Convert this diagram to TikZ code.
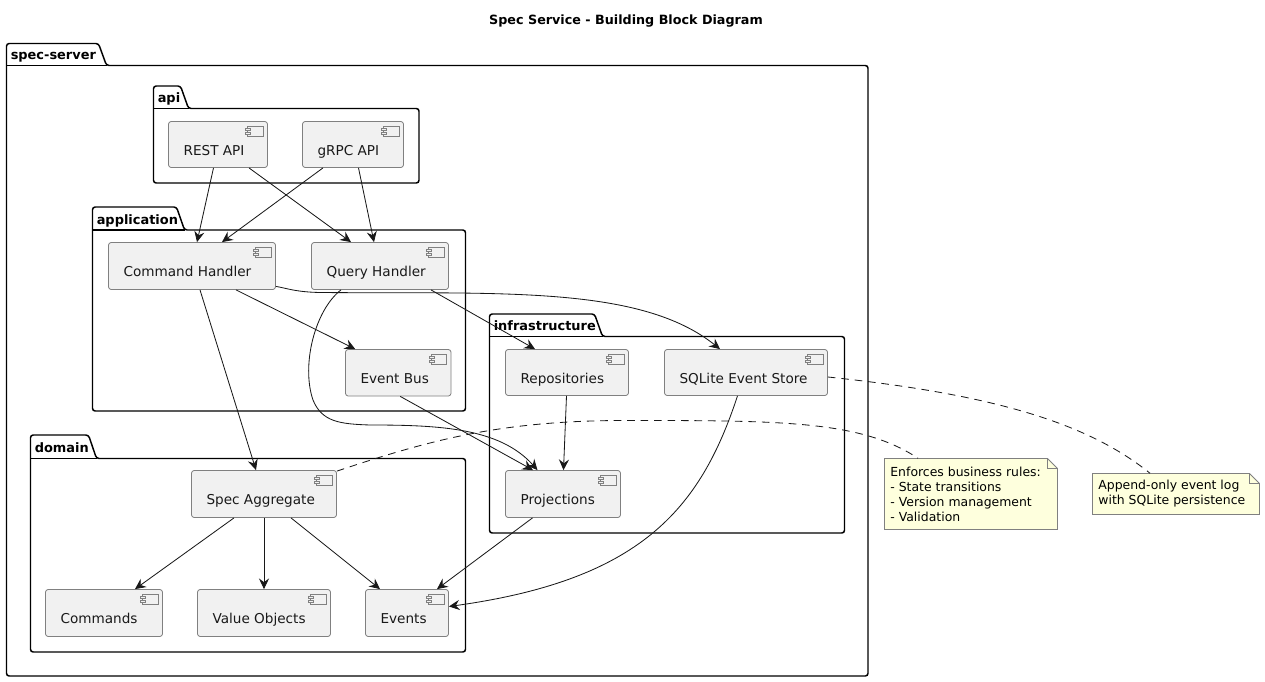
\documentclass[tikz,border=0pt]{standalone}
\usepackage{fontspec}
\setmainfont{DejaVu Sans}
\usetikzlibrary{arrows.meta,calc}
\definecolor{edgecol}{HTML}{181818}
\definecolor{compfill}{HTML}{F1F1F1}
\definecolor{notefill}{HTML}{FEFFDD}
\definecolor{thinline}{HTML}{808080}
\tikzset{
  x=0.75pt,y=-0.75pt,
  pkgline/.style={draw=black,line width=1.1pt,fill=white,rounded corners=2pt},
  pkglabel/.style={anchor=base west,inner sep=0pt,font=\fontsize{9.7pt}{11pt}\selectfont\bfseries,text=black},
  compbox/.style={draw=thinline,line width=0.6pt,fill=compfill,rounded corners=2pt,inner sep=0pt,font=\fontsize{10.2pt}{12pt}\selectfont,text=black!90},
  iconline/.style={draw=thinline,line width=0.6pt,fill=compfill},
  edge/.style={draw=edgecol,line width=0.62pt,-{Stealth[length=8pt,width=7.6pt,inset=2.8pt]}},
  notelink/.style={draw=edgecol,line width=0.62pt,dash pattern=on 5.7pt off 4.4pt},
  notebox/.style={inner sep=0pt,align=left,font=\fontsize{9.33pt}{11.25pt}\selectfont,text=black},
  noteline/.style={draw=thinline,line width=0.6pt},
}
\newcommand{\pkgshape}[9]{% name x1 tabtop tabright bodytop x2 y2 label dummy
  \draw[pkgline] (#2,#5) -- (#2,#3) -- (#4-8,#3) -- (#4,#5) -- (#6,#5) -- (#6,#7) -- (#2,#7) -- cycle;
  \draw[draw=black,line width=1.1pt] (#2,#5) -- (#4,#5);
  \node[pkglabel] (#1) at (#2+4,#5-6) {#8};
}
\newcommand{\compnode}[6]{% name x1 y1 x2 y2 text
  \pgfmathsetmacro\cw{(#4-#2)*0.75}
  \pgfmathsetmacro\chh{(#5-#3)*0.75}
  \node[compbox,minimum width=\cw pt,minimum height=\chh pt] (#1) at ({(#2+#4)/2},{(#3+#5)/2})
    {\makebox[\cw pt][l]{\hspace{11.3pt}\raisebox{-8.2pt}[0pt][0pt]{#6}}};
  \draw[iconline] ($(#1.north east)+(-20.5,5)$) rectangle ($(#1.north east)+(-5,15)$);
  \draw[iconline] ($(#1.north east)+(-22.5,7.5)$) rectangle ($(#1.north east)+(-17.5,9.5)$);
  \draw[iconline] ($(#1.north east)+(-22.5,11)$) rectangle ($(#1.north east)+(-17.5,13)$);
}
\newcommand{\notenode}[6]{% name x1 y1 x2 y2 text
  \pgfmathsetmacro\cw{(#4-#2)*0.75}
  \pgfmathsetmacro\chh{(#5-#3)*0.75}
  \draw[noteline,fill=notefill] (#2,#3) -- (#4-10,#3) -- (#4,#3+10) -- (#4,#5) -- (#2,#5) -- cycle;
  \draw[noteline] (#4-10,#3) -- (#4-10,#3+10) -- (#4,#3+10);
  \node[notebox,minimum width=\cw pt,minimum height=\chh pt] (#1) at ({(#2+#4)/2},{(#3+#5)/2})
    {\makebox[\cw pt][l]{\hspace{4.4pt}\parbox{\dimexpr\cw pt-5pt}{#6}}};
}
\begin{document}
\begin{tikzpicture}
\useasboundingbox (0,0) rectangle (1265,682);
\node[inner sep=0pt,anchor=base,font=\fontsize{9.55pt}{11pt}\selectfont\bfseries,text=black] (title) at (626,24) {Spec Service - Building Block Diagram};

\pkgshape{specserver}{6.5}{43.5}{106.5}{65.5}{868}{676}{spec-server}{}
\pkgshape{api}{153.5}{86}{188.5}{108.5}{419}{183}{api}{}
\pkgshape{application}{92.5}{207}{184.5}{230}{465.5}{411}{application}{}
\pkgshape{domain}{30.5}{435}{96.5}{458.5}{465.5}{652}{domain}{}
\pkgshape{infrastructure}{489.5}{314}{602.5}{336.5}{844.5}{533}{infrastructure}{}

\compnode{rest}{168.5}{121.5}{267.5}{167.5}{REST API}
\compnode{grpc}{302.5}{121.5}{403.5}{167.5}{gRPC API}
\compnode{cmd}{108.5}{242.5}{275.5}{289.5}{Command Handler}
\compnode{query}{311.5}{242.5}{448.5}{289.5}{Query Handler}
\compnode{bus}{345.5}{349.5}{451}{396}{Event Bus}
\compnode{repo}{505.5}{349.5}{628.5}{395.5}{Repositories}
\compnode{sqlite}{664.5}{349.5}{827.5}{395.5}{SQLite Event Store}
\compnode{proj}{505.5}{470.5}{620.5}{517.5}{Projections}
\compnode{agg}{191.5}{470.5}{336.5}{517.5}{Spec Aggregate}
\compnode{commands}{45.5}{589.5}{162.5}{636.5}{Commands}
\compnode{value}{197.5}{589.5}{330.5}{636.5}{Value Objects}
\compnode{events}{365.5}{589.5}{448.5}{636.5}{Events}

\notenode{noteA}{884.5}{458.5}{1057.5}{529.5}{Enforces business rules:\\- State transitions\\- Version management\\- Validation}
\notenode{noteB}{1092.5}{473.5}{1259.5}{514.5}{Append-only event log\\with SQLite persistence}

\draw[edge] ($(rest.south)+(-4.5,0)$) -- ($(cmd.north)+(5,0)$);
\draw[edge] ($(rest.south)+(31,0)$) -- ($(query.north)+(-29,0)$);
\draw[edge] ($(grpc.south)+(-30,0)$) -- ($(cmd.north)+(30,0)$);
\draw[edge] ($(grpc.south)+(5.5,0)$) -- ($(query.north)+(-6,0)$);
\draw[edge] ($(cmd.south)+(8,0)$) -- ($(agg.north)+(-8,0)$);
\draw[edge] ($(cmd.south)+(44,0)$) -- ($(bus.north)+(-43,0)$);
\draw[edge] ($(cmd.south east)+(0,-3.5)$) .. controls (286,288) and (295,292) .. (320,292.5) .. controls (500,294) and (640,285) .. ($(sqlite.north)+(-26,0)$);
\draw[edge] ($(query.south)+(51,0)$) -- ($(repo.north)+(-32,0)$);
\draw[edge] ($(query.south)+(-39,0)$) .. controls (315,310) and (301,365) .. (313,400) .. controls (322,422) and (340,424) .. (370,425) .. controls (440,425) and (500,428) .. ($(proj.north)+(-25.5,0)$);
\draw[edge] ($(bus.south)+(2,0)$) -- ($(proj.north)+(-30,0)$);
\draw[edge] ($(repo.south)+(-0.5,0)$) -- ($(proj.north)+(0.5,0)$);
\draw[edge] ($(sqlite.south)+(-8.5,0)$) .. controls (700,510) and (640,580) .. ($(events.east)+(0,-6.5)$);
\draw[edge] ($(proj.south)+(-30.5,0)$) -- ($(events.north)+(30,0)$);
\draw[edge] ($(agg.south)+(-30,0)$) -- ($(commands.north)+(31,0)$);
\draw[edge] (agg.south) -- (value.north);
\draw[edge] ($(agg.south)+(27,0)$) -- ($(events.north)+(-27,0)$);
\draw[notelink] ($(agg.north east)+(0,1)$) .. controls (430,440) and (500,421) .. (620,420.5) .. controls (780,420.5) and (860,420) .. ($(noteA.north)+(-53,0)$);
\draw[notelink] ($(sqlite.east)+(0,4.5)$) .. controls (1000,395) and (1090,425) .. ($(noteB.north)+(-26,0)$);
\end{tikzpicture}
\end{document}
